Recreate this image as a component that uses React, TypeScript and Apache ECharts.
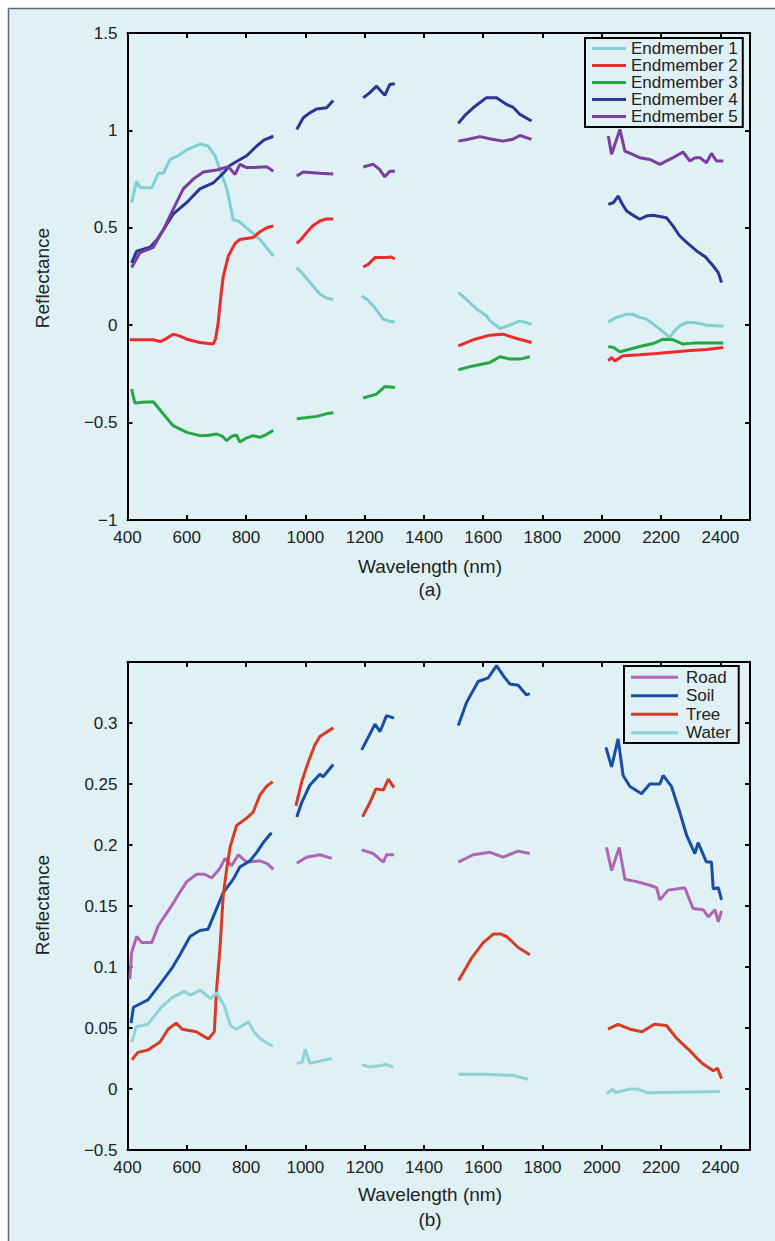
import React, { useEffect, useRef } from "react";
import * as echarts from "echarts";

type Pt = [number, number];

// ---------- Panel (a): endmember spectra ----------
const em1: Pt[][] = [
  [[414,0.63],[431,0.74],[442,0.706],[482,0.706],[504,0.78],[521,0.78],[543,0.85],[570,0.87],[600,0.90],[645,0.93],[672,0.92],[695,0.87],[712,0.80],[735,0.70],[757,0.54],[774,0.535],[802,0.50],[847,0.44],[892,0.355]],
  [[971,0.296],[993,0.26],[1015,0.22],[1049,0.16],[1070,0.14],[1094,0.133]],
  [[1190,0.15],[1210,0.13],[1229,0.10],[1263,0.03],[1285,0.02],[1302,0.017]],
  [[1516,0.168],[1545,0.13],[1566,0.10],[1578,0.082],[1611,0.048],[1623,0.022],[1656,-0.017],[1690,0.0],[1724,0.022],[1763,0.005]],
  [[2022,0.017],[2050,0.04],[2084,0.056],[2106,0.056],[2128,0.04],[2151,0.031],[2196,-0.02],[2229,-0.063],[2241,-0.037],[2263,-0.003],[2286,0.014],[2308,0.014],[2342,0.005],[2353,0.0],[2410,-0.005]],
];
const em2: Pt[][] = [
  [[408,-0.075],[487,-0.075],[510,-0.084],[530,-0.07],[554,-0.046],[575,-0.055],[600,-0.072],[644,-0.089],[689,-0.097],[697,-0.07],[706,0.014],[715,0.15],[723,0.25],[740,0.355],[763,0.42],[779,0.44],[800,0.445],[824,0.45],[847,0.48],[870,0.50],[892,0.51]],
  [[971,0.42],[985,0.44],[1004,0.475],[1025,0.51],[1049,0.535],[1070,0.545],[1094,0.545]],
  [[1195,0.30],[1210,0.31],[1235,0.347],[1274,0.347],[1290,0.35],[1302,0.34]],
  [[1516,-0.106],[1566,-0.075],[1623,-0.051],[1667,-0.046],[1713,-0.068],[1763,-0.089]],
  [[2022,-0.183],[2033,-0.166],[2044,-0.183],[2072,-0.157],[2128,-0.152],[2185,-0.145],[2241,-0.137],[2300,-0.13],[2353,-0.125],[2410,-0.115]],
];
const em3: Pt[][] = [
  [[414,-0.328],[425,-0.40],[450,-0.395],[487,-0.393],[521,-0.456],[554,-0.516],[600,-0.55],[644,-0.567],[675,-0.565],[701,-0.559],[720,-0.57],[735,-0.593],[752,-0.57],[768,-0.564],[779,-0.60],[800,-0.58],[824,-0.567],[847,-0.576],[870,-0.56],[892,-0.54]],
  [[971,-0.48],[1000,-0.475],[1038,-0.468],[1070,-0.455],[1094,-0.45]],
  [[1195,-0.374],[1240,-0.354],[1268,-0.315],[1302,-0.32]],
  [[1516,-0.229],[1566,-0.209],[1623,-0.191],[1656,-0.162],[1690,-0.174],[1724,-0.174],[1757,-0.162]],
  [[2022,-0.109],[2040,-0.115],[2061,-0.137],[2084,-0.127],[2128,-0.109],[2173,-0.094],[2207,-0.072],[2241,-0.075],[2274,-0.097],[2308,-0.092],[2353,-0.092],[2410,-0.092]],
];
const em4: Pt[][] = [
  [[414,0.32],[431,0.38],[476,0.40],[500,0.44],[521,0.49],[554,0.57],[600,0.63],[644,0.70],[689,0.73],[723,0.78],[745,0.82],[768,0.84],[802,0.87],[836,0.92],[860,0.95],[892,0.97]],
  [[971,1.005],[993,1.065],[1015,1.09],[1038,1.11],[1072,1.116],[1094,1.154]],
  [[1195,1.168],[1215,1.19],[1240,1.227],[1268,1.18],[1285,1.236],[1302,1.24]],
  [[1516,1.036],[1540,1.08],[1566,1.116],[1611,1.168],[1645,1.168],[1679,1.133],[1700,1.12],[1724,1.082],[1763,1.048]],
  [[2022,0.62],[2040,0.63],[2055,0.663],[2070,0.62],[2084,0.586],[2105,0.565],[2128,0.544],[2150,0.56],[2173,0.564],[2218,0.552],[2240,0.51],[2263,0.458],[2290,0.42],[2320,0.381],[2350,0.35],[2376,0.304],[2393,0.27],[2404,0.219]],
];
const em5: Pt[][] = [
  [[414,0.296],[442,0.373],[487,0.40],[521,0.49],[554,0.595],[588,0.70],[622,0.75],[656,0.786],[701,0.797],[740,0.814],[763,0.774],[779,0.826],[800,0.81],[824,0.809],[869,0.814],[892,0.79]],
  [[971,0.766],[993,0.786],[1049,0.78],[1094,0.776]],
  [[1195,0.812],[1229,0.826],[1250,0.80],[1268,0.762],[1285,0.79],[1302,0.79]],
  [[1516,0.945],[1550,0.955],[1589,0.968],[1630,0.955],[1667,0.945],[1700,0.955],[1724,0.974],[1763,0.954]],
  [[2022,0.971],[2033,0.877],[2061,1.005],[2078,0.894],[2100,0.88],[2128,0.86],[2162,0.851],[2196,0.826],[2220,0.845],[2241,0.86],[2274,0.889],[2297,0.843],[2315,0.86],[2331,0.86],[2353,0.834],[2370,0.882],[2387,0.843],[2410,0.843]],
];

// ---------- Panel (b): class spectra ----------
const road: Pt[][] = [
  [[408,0.09],[414,0.112],[431,0.125],[448,0.12],[482,0.12],[504,0.134],[543,0.148],[571,0.159],[600,0.170],[633,0.176],[660,0.176],[684,0.173],[712,0.181],[729,0.189],[751,0.183],[774,0.192],[802,0.186],[847,0.187],[870,0.185],[892,0.180]],
  [[971,0.185],[1004,0.190],[1049,0.192],[1089,0.189]],
  [[1190,0.196],[1229,0.193],[1263,0.186],[1274,0.192],[1299,0.192]],
  [[1516,0.186],[1566,0.192],[1623,0.194],[1667,0.190],[1718,0.195],[1757,0.193]],
  [[2016,0.198],[2033,0.179],[2059,0.198],[2078,0.172],[2117,0.170],[2162,0.167],[2185,0.165],[2196,0.155],[2224,0.163],[2280,0.165],[2308,0.148],[2342,0.147],[2359,0.141],[2382,0.147],[2393,0.137],[2404,0.146]],
];
const soil: Pt[][] = [
  [[412,0.054],[420,0.067],[469,0.073],[510,0.086],[550,0.099],[577,0.110],[611,0.125],[644,0.130],[672,0.131],[701,0.148],[723,0.161],[757,0.172],[779,0.182],[813,0.187],[836,0.194],[858,0.202],[886,0.210]],
  [[971,0.223],[988,0.235],[1015,0.249],[1049,0.258],[1060,0.256],[1094,0.266]],
  [[1190,0.278],[1235,0.299],[1252,0.293],[1274,0.306],[1299,0.304]],
  [[1516,0.298],[1544,0.317],[1583,0.334],[1617,0.337],[1645,0.347],[1670,0.338],[1690,0.332],[1718,0.331],[1746,0.323],[1757,0.324]],
  [[2014,0.280],[2033,0.264],[2055,0.287],[2072,0.257],[2095,0.248],[2134,0.242],[2162,0.250],[2196,0.250],[2207,0.257],[2235,0.248],[2263,0.227],[2286,0.208],[2314,0.193],[2325,0.202],[2353,0.186],[2370,0.186],[2376,0.164],[2393,0.165],[2404,0.155]],
];
const tree: Pt[][] = [
  [[415,0.024],[435,0.030],[469,0.032],[510,0.0385],[537,0.049],[564,0.054],[585,0.049],[632,0.047],[673,0.041],[693,0.047],[700,0.080],[712,0.115],[723,0.159],[735,0.181],[746,0.198],[768,0.216],[802,0.222],[824,0.227],[847,0.241],[869,0.248],[890,0.252]],
  [[968,0.232],[988,0.252],[1010,0.268],[1032,0.282],[1049,0.289],[1094,0.296]],
  [[1193,0.223],[1218,0.235],[1238,0.246],[1263,0.245],[1280,0.254],[1299,0.247]],
  [[1517,0.089],[1560,0.107],[1600,0.120],[1634,0.127],[1660,0.127],[1679,0.125],[1718,0.116],[1757,0.110]],
  [[2021,0.049],[2055,0.053],[2095,0.049],[2136,0.047],[2177,0.053],[2218,0.052],[2251,0.042],[2272,0.037],[2299,0.031],[2326,0.024],[2342,0.0205],[2376,0.015],[2390,0.017],[2404,0.0085]],
];
const water: Pt[][] = [
  [[415,0.0385],[429,0.051],[469,0.053],[510,0.066],[551,0.075],[591,0.080],[612,0.077],[646,0.081],[680,0.074],[700,0.079],[727,0.068],[747,0.052],[768,0.049],[808,0.055],[829,0.046],[849,0.041],[890,0.035]],
  [[971,0.021],[990,0.022],[999,0.0325],[1015,0.021],[1089,0.025]],
  [[1190,0.020],[1218,0.018],[1274,0.020],[1297,0.018]],
  [[1516,0.012],[1611,0.012],[1701,0.011],[1751,0.008]],
  [[2016,-0.004],[2038,0.0],[2045,-0.003],[2096,0.0],[2120,0.0],[2152,-0.003],[2398,-0.002]],
];

const namesA = ["Endmember 1", "Endmember 2", "Endmember 3", "Endmember 4", "Endmember 5"];
const namesB = ["Road", "Soil", "Tree", "Water"];
const yTickLabelsA = ["\u22121", "\u22120.5", "0", "0.5", "1", "1.5"];
const yTickLabelsB = ["\u22120.5", "0", "0.05", "0.1", "0.15", "0.2", "0.25", "0.3", ""];

const colorsA = ["#7fcfd3", "#ee2b2b", "#25a844", "#2a3793", "#7b3d9e"];
const colorsB = ["#b065b2", "#1a4ea2", "#d63c24", "#8fd3d8"];

const BG = "#dff1f4";
const FONT = "Liberation Sans, Arial, sans-serif";

function joinSegs(segs: Pt[][]): (number | null)[][] {
  const out: (number | null)[][] = [];
  segs.forEach((s, i) => {
    if (i > 0) {
      const prev = segs[i - 1];
      out.push([(prev[prev.length - 1][0] + s[0][0]) / 2, null]);
    }
    s.forEach((p) => out.push([p[0], p[1]]));
  });
  return out;
}

function axesFor(grid: number, yMin: number, yMax: number, yInt: number, labels: string[]) {
  const line = { show: true, onZero: false, lineStyle: { color: "#000", width: 2 } };
  const tick = { show: true, inside: true, length: 5, lineStyle: { color: "#000", width: 2 } };
  const x = (pos: string, showLabel: boolean) => ({
    type: "value", gridIndex: grid, position: pos, min: 400, max: 2500, interval: 200,
    axisLine: line, axisTick: tick, splitLine: { show: false },
    axisLabel: {
      show: showLabel, margin: 9, color: "#222", fontSize: 17, fontFamily: FONT,
      formatter: (v: number) => (v > 2450 ? "" : String(v)),
    },
  });
  const y = (pos: string, showLabel: boolean) => ({
    type: "value", gridIndex: grid, position: pos, min: yMin, max: yMax, interval: yInt,
    axisLine: line, axisTick: tick, splitLine: { show: false },
    axisLabel: {
      show: showLabel, margin: 10, color: "#222", fontSize: 17, fontFamily: FONT,
      formatter: (v: number) => labels[Math.round((v - yMin) / yInt)] ?? "",
    },
  });
  return { xs: [x("bottom", true), x("top", false)], ys: [y("left", true), y("right", false)] };
}

export default function App() {
  const ref = useRef<HTMLDivElement>(null);
  useEffect(() => {
    if (!ref.current) return;
    const chart = echarts.init(ref.current, undefined, { renderer: "svg" });
    const a = axesFor(0, -1, 1.5, 0.5, yTickLabelsA);
    const b = axesFor(1, -0.05, 0.35, 0.05, yTickLabelsB);
    const seriesA = [em1, em2, em3, em4, em5].map((d, i) => ({
      name: namesA[i], type: "line", xAxisIndex: 0, yAxisIndex: 0, data: joinSegs(d),
      showSymbol: false, symbol: "none", connectNulls: false, color: colorsA[i],
      lineStyle: { width: 3, color: colorsA[i] },
    }));
    const seriesB = [road, soil, tree, water].map((d, i) => ({
      name: namesB[i], type: "line", xAxisIndex: 2, yAxisIndex: 2, data: joinSegs(d),
      showSymbol: false, symbol: "none", connectNulls: false, color: colorsB[i],
      lineStyle: { width: 3, color: colorsB[i] },
    }));
    const txt = (text: string, x: number, y: number, rot = 0) => ({
      type: "text", x, y, rotation: rot,
      style: { text, fill: "#222", font: `19px ${FONT}`, align: "center", verticalAlign: "middle" },
    });
    chart.setOption({
      animation: false,
      backgroundColor: BG,
      grid: [
        { left: 127.5, top: 33, width: 622.5, height: 487 },
        { left: 127.5, top: 662, width: 622.5, height: 488 },
      ],
      xAxis: [...a.xs, ...b.xs],
      yAxis: [...a.ys, ...b.ys],
      legend: [
        {
          data: namesA, orient: "vertical", left: 585, top: 38, icon: "rect",
          itemWidth: 34, itemHeight: 3, itemGap: 0, padding: [2, 5, 2, 7],
          borderColor: "#000", borderWidth: 2, backgroundColor: BG, selectedMode: false,
          textStyle: { fontSize: 17, fontFamily: FONT, color: "#222", lineHeight: 16.6 },
        },
        {
          data: namesB, orient: "vertical", left: 624, top: 666, icon: "rect",
          itemWidth: 47, itemHeight: 3, itemGap: 0, padding: [2, 8, 1, 7],
          borderColor: "#000", borderWidth: 2, backgroundColor: BG, selectedMode: false,
          textStyle: { fontSize: 17, fontFamily: FONT, color: "#222", lineHeight: 18.5, padding: [0, 0, 0, 3] },
        },
      ],
      graphic: [
        { type: "rect", shape: { x: 0, y: 0, width: 775, height: 8 }, style: { fill: "#fff" } },
        { type: "rect", shape: { x: 0, y: 0, width: 8, height: 1241 }, style: { fill: "#fff" } },
        { type: "line", shape: { x1: 8.5, y1: 8.5, x2: 775, y2: 8.5 }, style: { stroke: "#666", lineWidth: 1.5 } },
        { type: "line", shape: { x1: 8.5, y1: 8.5, x2: 8.5, y2: 1241 }, style: { stroke: "#666", lineWidth: 1.5 } },
        txt("Reflectance", 42, 278, Math.PI / 2),
        txt("Wavelength (nm)", 430, 566),
        txt("(a)", 430, 589),
        txt("Reflectance", 42, 905, Math.PI / 2),
        txt("Wavelength (nm)", 430, 1194),
        txt("(b)", 430, 1219),
      ],
      series: [...seriesA, ...seriesB],
    });
    return () => chart.dispose();
  }, []);
  return (
    <div
      ref={ref}
      style={{ position: "absolute", left: 0, top: 0, width: 775, height: 1241 }}
    />
  );
}
